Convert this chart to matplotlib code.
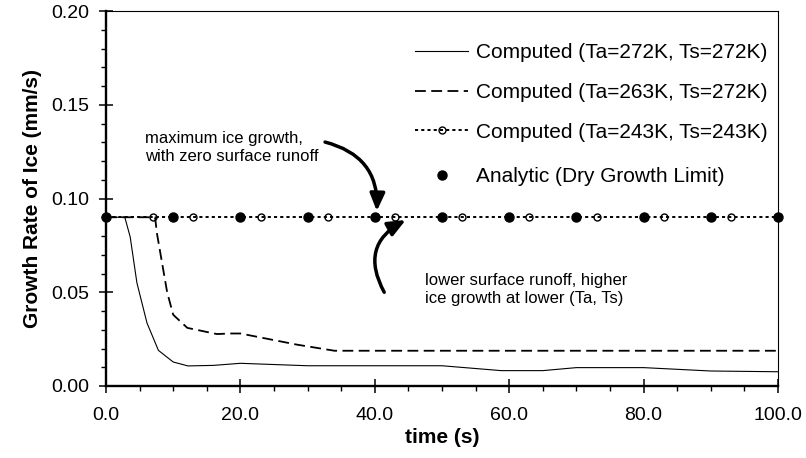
import matplotlib
matplotlib.use("Agg")
import matplotlib.pyplot as plt
from matplotlib.ticker import MultipleLocator, FixedLocator, FixedFormatter

plt.rcParams['font.family'] = ['Liberation Sans', 'DejaVu Sans']

# ---- data ----
t_272 = [0, 2.8, 3.6, 4.6, 6.1, 7.8, 10.0, 12.2, 16.0, 20.0, 30.0, 50.0, 58.8, 65.0, 70.0, 80.0, 90.0, 100.0]
v_272 = [0.090, 0.090, 0.0795, 0.055, 0.0336, 0.019, 0.0128, 0.0107, 0.011, 0.0121, 0.0108, 0.0108, 0.0082, 0.0082, 0.0098, 0.0098, 0.0080, 0.0076]

t_263 = [0, 7.3, 7.6, 9.1, 10.0, 12.1, 16.5, 18.5, 20.0, 28.5, 34.0, 50.0, 70.0, 100.0]
v_263 = [0.090, 0.090, 0.081, 0.050, 0.038, 0.031, 0.0277, 0.028, 0.028, 0.022, 0.0188, 0.0188, 0.0188, 0.0188]

t_243 = [0, 7, 13, 23, 33, 43, 53, 63, 73, 83, 93, 100]
v_243 = [0.09, 0.09, 0.09, 0.09, 0.09, 0.09, 0.09, 0.09, 0.09, 0.09, 0.09, 0.09]

t_analytic = [0, 10, 20, 30, 40, 50, 60, 70, 80, 90, 100]
v_analytic = [0.09, 0.09, 0.09, 0.09, 0.09, 0.09, 0.09, 0.09, 0.09, 0.09, 0.09]

x_ticks = [0, 20, 40, 60, 80, 100]
x_tick_labels = ['0.0', '20.0', '40.0', '60.0', '80.0', '100.0']
y_ticks = [0.00, 0.05, 0.10, 0.15, 0.20]
y_tick_labels = ['0.00', '0.05', '0.10', '0.15', '0.20']

labels = ['Computed (Ta=272K, Ts=272K)', 'Computed (Ta=263K, Ts=272K)',
          'Computed (Ta=243K, Ts=243K)', 'Analytic (Dry Growth Limit)']

# ---- figure ----
fig = plt.figure(figsize=(8.06, 4.58), dpi=100)
ax = fig.add_axes([106/806, 72/458, 672/806, 375/458])

l1, = ax.plot(t_272, v_272, color='black', lw=0.8, label=labels[0])
l2, = ax.plot(t_263, v_263, color='black', lw=1.3, linestyle=(0, (6, 3)), label=labels[1])
l3, = ax.plot(t_243, v_243, color='black', lw=1.4, linestyle=(0, (1.6, 1.6)),
              marker='o', markersize=5, markerfacecolor='none', markeredgecolor='black',
              markeredgewidth=1.0, markevery=slice(1, -1), label=labels[2])
l4, = ax.plot(t_analytic, v_analytic, linestyle='none', marker='o', markersize=6.5,
              color='black', clip_on=False, zorder=5, label=labels[3])

ax.set_xlim(0, 100)
ax.set_ylim(0, 0.20)

ax.xaxis.set_major_locator(FixedLocator(x_ticks))
ax.xaxis.set_major_formatter(FixedFormatter(x_tick_labels))
ax.xaxis.set_minor_locator(MultipleLocator(5))
ax.yaxis.set_major_locator(FixedLocator(y_ticks))
ax.yaxis.set_major_formatter(FixedFormatter(y_tick_labels))
ax.yaxis.set_minor_locator(MultipleLocator(0.01))

ax.tick_params(which='major', direction='inout', length=10, width=1.1, labelsize=14)
ax.tick_params(which='minor', direction='out', length=3.6, width=1.0)
ax.tick_params(axis='x', which='major', pad=10)
ax.tick_params(axis='y', which='major', pad=7)

for s in ['left', 'bottom']:
    ax.spines[s].set_linewidth(1.7)
for s in ['top', 'right']:
    ax.spines[s].set_linewidth(0.8)

ax.set_xlabel('time (s)', fontsize=15, fontweight='bold', labelpad=3)
ax.set_ylabel('Growth Rate of Ice (mm/s)', fontsize=15, fontweight='bold', labelpad=7)

leg_kw = dict(frameon=False, fontsize=15, handlelength=2.55, handletextpad=0.4,
              borderpad=0, borderaxespad=0, numpoints=1, loc='upper left')
leg1 = ax.legend(handles=[l1, l2, l3], labelspacing=1.0,
                 bbox_to_anchor=((415-106)/672, (386-43)/375), **leg_kw)
ax.add_artist(leg1)
ax.legend(handles=[l4], bbox_to_anchor=((415-106)/672, (386-167)/375), **leg_kw)

# annotations
ax.text(5.8, 0.1272, 'maximum ice growth,\nwith zero surface runoff', fontsize=12,
        ha='left', va='center', linespacing=1.25)
ax.text(47.5, 0.0512, 'lower surface runoff, higher\nice growth at lower (Ta, Ts)', fontsize=12,
        ha='left', va='center', linespacing=1.25)

ax.annotate('', xy=(40.3, 0.0933), xytext=(32.6, 0.1301),
            arrowprops=dict(arrowstyle='-|>,head_length=0.7,head_width=0.3',
                            connectionstyle='arc3,rad=-0.4', lw=2.5, color='black',
                            mutation_scale=15, shrinkA=0, shrinkB=0))
ax.annotate('', xy=(44.6, 0.0885), xytext=(41.4, 0.050),
            arrowprops=dict(arrowstyle='-|>,head_length=0.7,head_width=0.3',
                            connectionstyle='arc3,rad=-0.5', lw=2.5, color='black',
                            mutation_scale=15, shrinkA=0, shrinkB=0))

fig.savefig('out.png', dpi=100)
